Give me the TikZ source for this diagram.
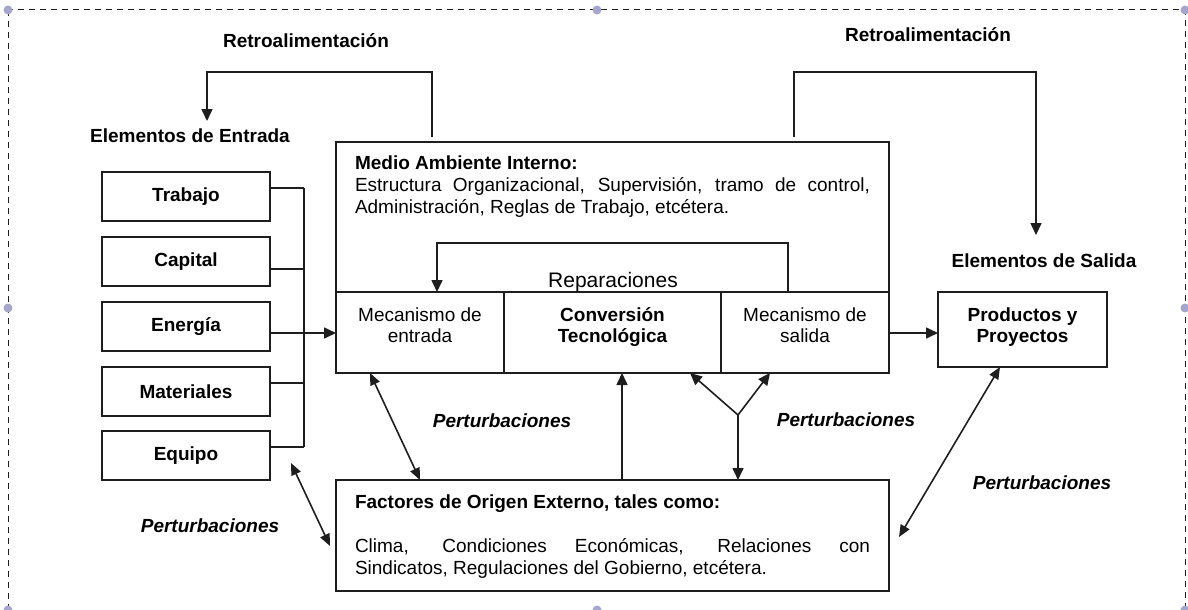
\documentclass[tikz,border=0pt]{standalone}
\usepackage{fontspec}
\setmainfont{Liberation Sans}
\usetikzlibrary{arrows.meta,calc}
\definecolor{ink}{RGB}{30,30,30}
\definecolor{handlec}{RGB}{165,165,205}
\newcommand\diagfs{\fontsize{19}{23}\selectfont}
\tikzset{
  x=1pt,y=-1pt,
  ln/.style={draw=ink,line width=1.6pt},
  arr/.style={ln,-{Triangle[length=12pt,width=11pt]}},
  darr/.style={ln,{Triangle[length=12pt,width=10pt]}-{Triangle[length=12pt,width=10pt]}},
  boxbase/.style={draw=ink,line width=1.6pt,inner sep=0pt,outer sep=0pt,align=center},
  inbox/.style={boxbase,minimum width=168pt,minimum height=49pt,font=\diagfs\bfseries},
  txt/.style={inner sep=0pt,outer sep=0pt,anchor=base,font=\diagfs},
  txtb/.style={txt,font=\diagfs\bfseries},
  txtl/.style={inner sep=0pt,outer sep=0pt,anchor=base west,font=\diagfs},
  txtlb/.style={txtl,font=\diagfs\bfseries},
  pert/.style={txt,font=\diagfs\bfseries\itshape},
  handle/.style={fill=handlec,draw=none}
}
\begin{document}
\begin{tikzpicture}[font=\diagfs]
\useasboundingbox (0,0) rectangle (1188,610);
% frame
\draw[ink,line width=1pt,dash pattern=on 6pt off 5pt] (8,10) rectangle (1185,612);
\foreach \p in {(8,10),(597,10),(1185,10),(8,308),(1185,308),(8,610),(597,610),(1185,610)}
  \fill[handle] \p circle (4.5);

% input boxes
\node[inbox] (trabajo)    at (186,196.5) {Trabajo};
\node[inbox] (capital)    at (186,261.5) {Capital};
\node[inbox] (energia)    at (186,326.5) {Energía};
\node[inbox] (materiales) at (186,391.5) {Materiales};
\node[inbox] (equipo)     at (186,455.5) {Equipo};

% main boxes
\node[boxbase,minimum width=553pt,minimum height=231pt] (medio) at (612.5,257.5) {};
\node[boxbase,minimum width=168pt,minimum height=81pt] (mecent) at (420,332.5) {};
\node[boxbase,minimum width=217pt,minimum height=81pt] (conv) at (612.5,332.5) {};
\node[boxbase,minimum width=168pt,minimum height=81pt] (mecsal) at (805,332.5) {};
\node[boxbase,minimum width=169pt,minimum height=75pt] (productos) at (1022.5,329.5) {};
\node[boxbase,minimum width=553pt,minimum height=111pt] (factores) at (612.5,535.5) {};

% texts in row boxes
\node[txt] (mecent1) at (420,321) {Mecanismo de};
\node[txt] (mecent2) at (420,342) {entrada};
\node[txtb] (conv1) at (612.5,321) {Conversión};
\node[txtb] (conv2) at (612.5,342) {Tecnológica};
\node[txt] (mecsal1) at (805,321) {Mecanismo de};
\node[txt] (mecsal2) at (805,342) {salida};
\node[txtb] (prod1) at (1022.5,321) {Productos y};
\node[txtb] (prod2) at (1022.5,342) {Proyectos};

% medio text
\node[txtlb] (medio1) at (355,169) {Medio Ambiente Interno:};
\node[txtl] (medio2) at (355,191) {\makebox[515pt][s]{Estructura Organizacional, Supervisión, tramo de control,}};
\node[txtl] (medio3) at (355,213) {Administración, Reglas de Trabajo, etcétera.};

% factores text
\node[txtlb] (fac1) at (355,508) {Factores de Origen Externo, tales como:};
\node[txtl] (fac2) at (355,552) {\makebox[515pt][s]{Clima, Condiciones Económicas, Relaciones con}};
\node[txtl] (fac3) at (355,574) {Sindicatos, Regulaciones del Gobierno, etcétera.};

% labels
\node[txtb] (retroL) at (306,48) {Retroalimentación};
\node[txtb] (retroR) at (928,42) {Retroalimentación};
\node[txtb] (entrada) at (190,142) {Elementos de Entrada};
\node[txtb] (salida) at (1044,267) {Elementos de Salida};
\node[txt,font=\fontsize{21}{25}\selectfont] (repar) at (613,287) {Reparaciones};
\node[pert] (pertA) at (502,427) {Perturbaciones};
\node[pert] (pertB) at (846,426) {Perturbaciones};
\node[pert] (pertC) at (1042,489) {Perturbaciones};
\node[pert] (pertD) at (210,532) {Perturbaciones};

% coordinates
\coordinate (fbLstart) at (432,137);
\coordinate (fbLtop) at (432,72);
\coordinate (fbLend) at (207,121);
\coordinate (fbRstart) at (794,137);
\coordinate (fbRtop) at (794,72);
\coordinate (fbRend) at (1036,235);
\coordinate (repTop) at (788,243);
\coordinate (repLeft) at (437,243);
\coordinate (bus1) at (304,188);
\coordinate (bus2) at (304,269);
\coordinate (bus3) at (304,333);
\coordinate (bus4) at (304,383);
\coordinate (bus5) at (304,447);
\coordinate (upx) at (622,0);
\coordinate (fork) at (738,415);
\coordinate (eqA) at (291,463);
\coordinate (facW) at (330,546);
\coordinate (facE) at (899,537);
\coordinate (outy) at (0,333);

% feedback loops
\draw[arr] (fbLstart) -- (fbLtop) -| (fbLend);
\draw[arr] (fbRstart) -- (fbRtop) -| (fbRend);
\draw[arr] (mecsal.north -| repTop) -- (repTop) -| (mecent.north -| repLeft);

% input bus
\draw[ln] (trabajo.east |- bus1) -- (bus1);
\draw[ln] (capital.east |- bus2) -- (bus2);
\draw[ln] (materiales.east |- bus4) -- (bus4);
\draw[ln] (equipo.east |- bus5) -- (bus5);
\draw[ln] (bus1) -- (bus5);
\draw[arr] (energia.east |- bus3) -- (mecent.west |- bus3);

% output
\draw[arr] (mecsal.east |- outy) -- (productos.west |- outy);

% disturbances
\draw[darr] ($(mecent.south west)+(34,0)$) -- ($(factores.north west)+(84,0)$);
\draw[darr] (eqA) -- (facW);
\draw[arr] (factores.north -| upx) -- (conv.south -| upx);
\draw[arr] (fork) -- (factores.north -| fork);
\draw[arr] (fork) -- ($(conv.south east)+(-31,0)$);
\draw[arr] (fork) -- ($(mecsal.south west)+(49,0)$);
\draw[darr] ($(productos.south west)+(62,0)$) -- (facE);
\end{tikzpicture}
\end{document}
